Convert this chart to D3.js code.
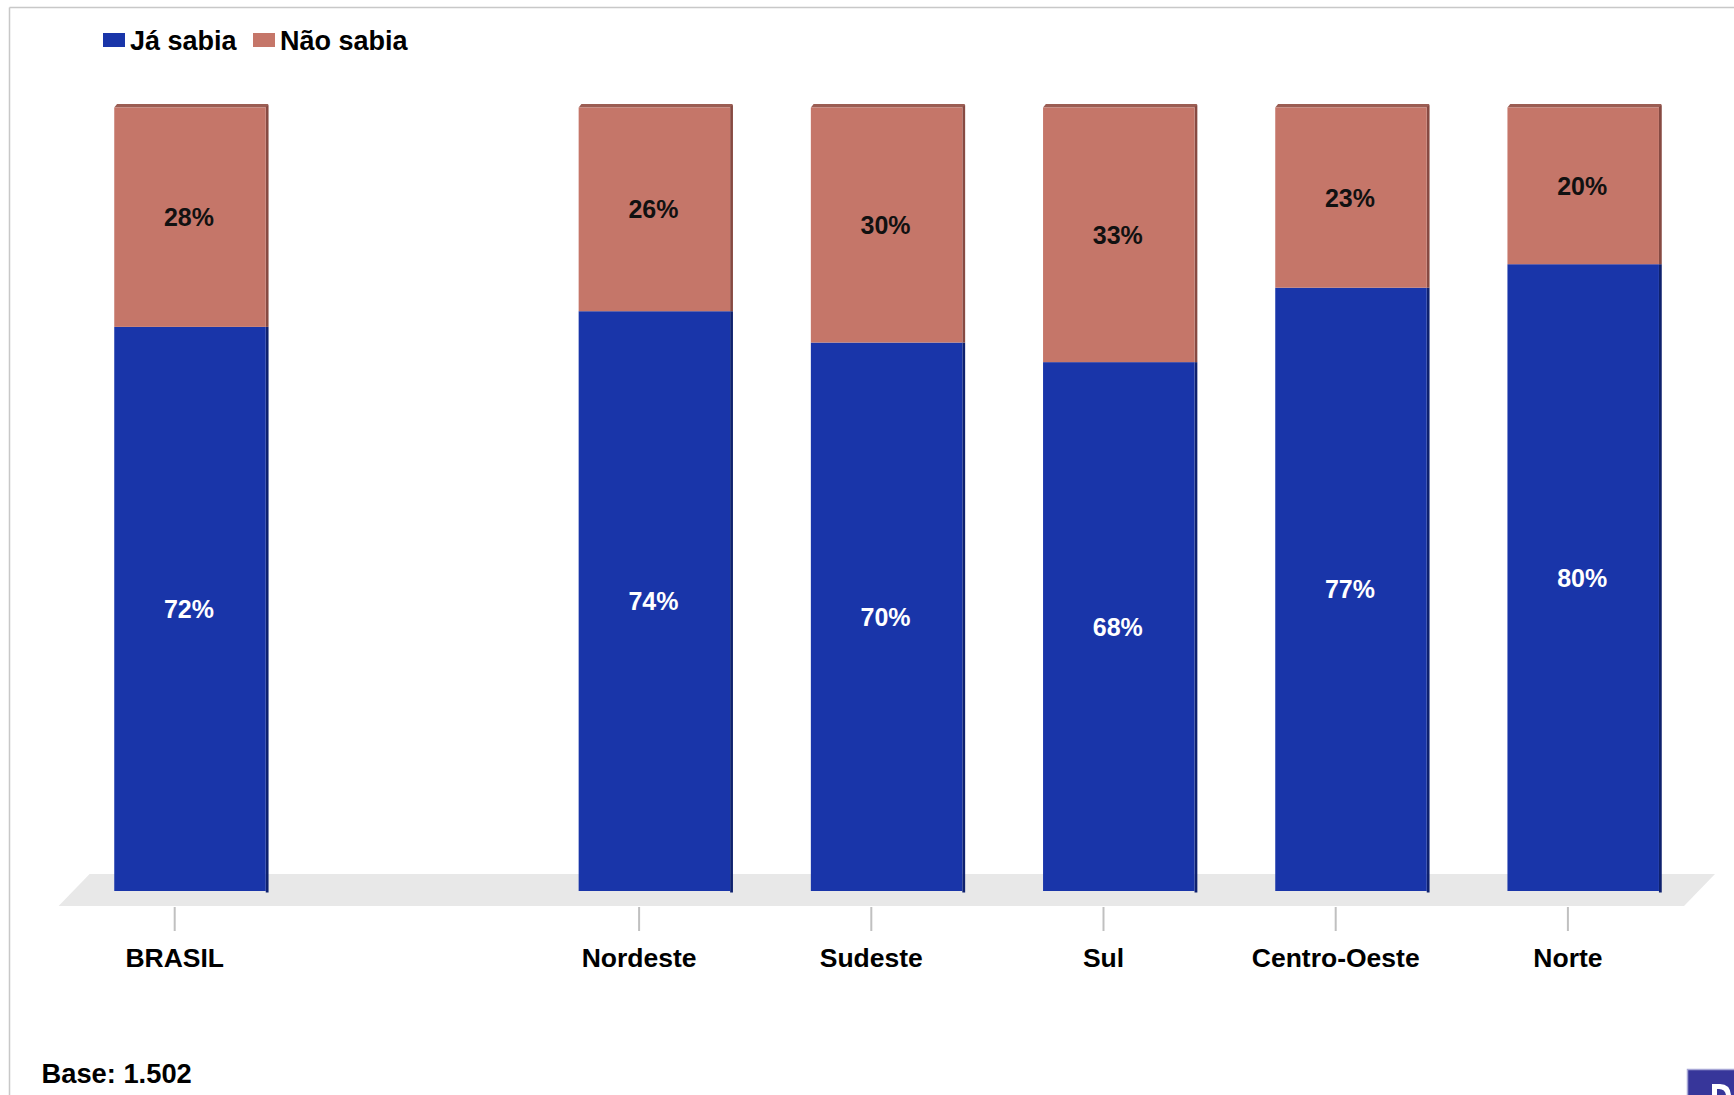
<!DOCTYPE html>
<html>
<head>
<meta charset="utf-8">
<script src="https://cdn.jsdelivr.net/npm/d3@7"></script>
<style>
  html, body { margin: 0; padding: 0; background: #ffffff; }
  svg { display: block; }
  text { font-family: "Liberation Sans", Arial, sans-serif; font-weight: bold; }
</style>
</head>
<body>
<svg id="chart" width="1734" height="1095"></svg>
<script>
// ---- data ----
const categories = ["BRASIL", "", "Nordeste", "Sudeste", "Sul", "Centro-Oeste", "Norte"];
const jaSabia   = [72, null, 74, 70, 67.5, 77, 80];
const naoSabia  = [28, null, 26, 30, 32.5, 23, 20];
const seriesNames = ["Já sabia", "Não sabia"];
const baseNote = "Base: 1.502";

// ---- styles ----
const blue = "#1935A9", blueSide = "#0E216E";
const pink = "#C57669", pinkSide = "#874A42", pinkTop = "#9B5D53";

const svg = d3.select("#chart");
const W = 1734, H = 1095;

// frame lines
svg.append("line").attr("x1", 9.5).attr("x2", W).attr("y1", 7.5).attr("y2", 7.5)
  .attr("stroke", "#c8c8c8").attr("stroke-width", 1.5);
svg.append("line").attr("x1", 9.5).attr("x2", 9.5).attr("y1", 7.5).attr("y2", H)
  .attr("stroke", "#c8c8c8").attr("stroke-width", 1.5);

// scales
const x = d3.scaleBand().domain(categories.map((c, i) => i)).range([58.6, 1684]).padding(0);
const y = d3.scaleLinear().domain([0, 100]).range([891, 107.5]);

const depthX = 31, depthY = 32;
const floorBottom = 906, floorTop = floorBottom - depthY;

// floor
svg.append("polygon")
  .attr("points", [
    [x.range()[0], floorBottom], [x.range()[1], floorBottom],
    [x.range()[1] + depthX, floorTop], [x.range()[0] + depthX, floorTop]
  ].map(p => p.join(",")).join(" "))
  .attr("fill", "#e8e8e8");

// axis ticks and labels
const axis = svg.append("g").attr("transform", `translate(0,${floorBottom})`)
  .call(d3.axisBottom(x).tickSize(25).tickPadding(17.5)
    .tickFormat(i => categories[i]));
axis.select(".domain").remove();
axis.selectAll(".tick").filter(i => categories[i] === "").remove();
axis.selectAll(".tick line").attr("stroke", "#c0c0c0").attr("stroke-width", 2).attr("y1", 1);
axis.selectAll(".tick text")
  .attr("fill", "#000").attr("font-size", 26.5)
  .style("font-family", "'Liberation Sans', Arial, sans-serif").style("font-weight", "bold");

// bars
const barW = 151.5, side = 2.8, capH = 3.4;
const rows = categories.map((c, i) => ({ i, c, ja: jaSabia[i], nao: naoSabia[i] }))
  .filter(d => d.ja !== null);

const g = svg.append("g");
rows.forEach(d => {
  const cx = x(d.i) + x.bandwidth() / 2 + 15.3;
  const x0 = cx - barW / 2;
  const yBase = y(0), yMid = y(d.ja), yTop = y(d.ja + d.nao);
  // side faces
  g.append("rect").attr("x", x0 + barW).attr("y", yMid).attr("width", side)
    .attr("height", yBase - yMid + 1.5).attr("fill", blueSide);
  g.append("rect").attr("x", x0 + barW).attr("y", yTop - capH + 1).attr("width", side)
    .attr("height", yMid - yTop + capH - 1).attr("fill", pinkSide);
  // top cap
  g.append("polygon")
    .attr("points", [[x0, yTop], [x0 + side, yTop - capH], [x0 + barW + side, yTop - capH], [x0 + barW, yTop]]
      .map(p => p.join(",")).join(" "))
    .attr("fill", pinkTop);
  // front faces
  g.append("rect").attr("x", x0).attr("y", yMid).attr("width", barW)
    .attr("height", yBase - yMid).attr("fill", blue);
  g.append("rect").attr("x", x0).attr("y", yTop).attr("width", barW)
    .attr("height", yMid - yTop).attr("fill", pink);
  // labels
  g.append("text").attr("x", cx - 1).attr("y", (yMid + yBase) / 2)
    .attr("text-anchor", "middle").attr("dominant-baseline", "central")
    .attr("font-size", 25).attr("fill", "#ffffff")
    .text(Math.round(d.ja) + "%");
  g.append("text").attr("x", cx - 1).attr("y", (yTop + yMid) / 2)
    .attr("text-anchor", "middle").attr("dominant-baseline", "central")
    .attr("font-size", 25).attr("fill", "#111111")
    .text(Math.round(d.nao) + "%");
});

// legend
const legend = svg.append("g");
const legendColors = [blue, pink];
const legendX = [103, 253];
seriesNames.forEach((name, k) => {
  legend.append("rect").attr("x", legendX[k]).attr("y", 33).attr("width", 22).attr("height", 14)
    .attr("fill", legendColors[k]);
  legend.append("text").attr("x", legendX[k] + 27).attr("y", 49.5)
    .attr("font-size", 27).attr("fill", "#000").text(name);
});

// base note
svg.append("text").attr("x", 41.5).attr("y", 1082.5).attr("font-size", 27.3).attr("fill", "#000").text(baseNote);

// partial box at bottom right corner (cropped button)
svg.append("rect").attr("x", 1687.5).attr("y", 1069.5).attr("width", 60).attr("height", 40)
  .attr("fill", "#37369a").attr("stroke", "#a7a7d6").attr("stroke-width", 1.5);
svg.append("path")
  .attr("d", "M1712,1095 L1712,1084 L1720,1084 Q1730,1084 1731,1095 L1726,1095 Q1725,1089 1719,1089 L1717,1089 L1717,1095 Z")
  .attr("fill", "#ffffff");
</script>
</body>
</html>
